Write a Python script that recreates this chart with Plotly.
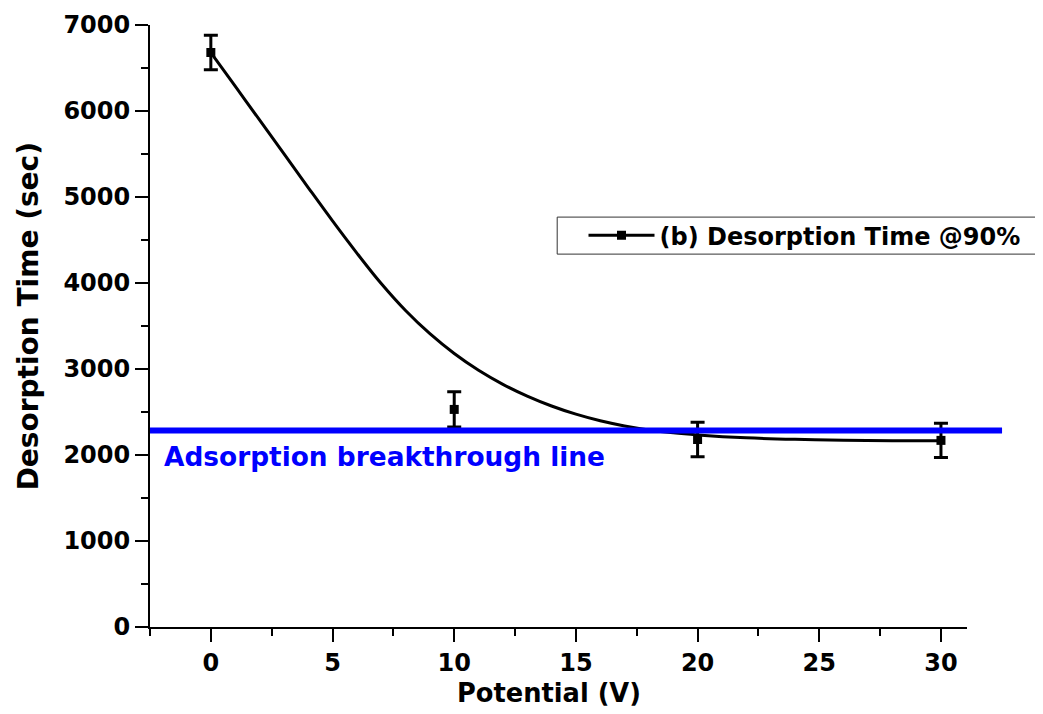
import plotly.graph_objects as go

# measured points (Potential V, desorption time s, error s)
potential = [0, 10, 20, 30]
desorption = [6680, 2530, 2180, 2170]
desorption_err = [200, 205, 200, 200]

# smooth curve
curve_x = [0, 1, 2, 3, 4, 5, 6, 7, 8, 9, 10, 11, 12, 13, 14, 15, 16, 17, 18, 19, 20, 22, 24, 26, 28, 30]
curve_y = [6680, 6288, 5896, 5503, 5110, 4722, 4348, 3994, 3680, 3410, 3180, 2985, 2822, 2685,
           2570, 2475, 2398, 2338, 2292, 2258, 2234, 2200, 2182, 2172, 2167, 2165]

breakthrough = 2285
breakthrough_label = "Adsorption breakthrough line"
legend_label = "(b) Desorption Time @90%"
x_title = "Potential (V)"
y_title = "Desorption Time (sec)"

FONT = "DejaVu Sans"

fig = go.Figure()

fig.add_trace(go.Scatter(
    x=curve_x, y=curve_y, mode="lines", line=dict(color="black", width=3, shape="spline"),
    showlegend=False, hoverinfo="skip"))

fig.add_trace(go.Scatter(
    x=potential, y=desorption, mode="markers",
    marker=dict(symbol="square", size=9, color="black"),
    error_y=dict(type="data", array=desorption_err, color="black", thickness=3, width=7),
    showlegend=False))

# legend-only entry (line + square marker)
fig.add_trace(go.Scatter(
    x=[None], y=[None], mode="lines+markers", name=legend_label,
    line=dict(color="black", width=3), marker=dict(symbol="square", size=9, color="black")))

fig.add_shape(type="line", xref="paper", yref="y", x0=0, x1=1.0429,
              y0=breakthrough, y1=breakthrough, line=dict(color="#0000FF", width=6), layer="above")

# legend frame
fig.add_shape(type="rect", xref="paper", yref="paper", x0=0.4984, x1=1.2, y0=0.6194, y1=0.6809,
              line=dict(color="#333333", width=1), fillcolor="rgba(0,0,0,0)", layer="above")

fig.add_annotation(x=-2.0, y=1985, xref="x", yref="y", text=breakthrough_label, showarrow=False,
                   xanchor="left", yanchor="middle",
                   font=dict(family=FONT, size=26.4, color="#0000FF", weight="bold"))

# axis titles
fig.add_annotation(x=0.4886, y=0, xref="paper", yref="paper", yshift=-66, text=x_title,
                   showarrow=False, xanchor="center", yanchor="middle",
                   font=dict(family=FONT, size=25.7, color="black", weight="bold"))
fig.add_annotation(x=0, y=0.516, xref="paper", yref="paper", xshift=-122, text=y_title,
                   textangle=-90, showarrow=False, xanchor="center", yanchor="middle",
                   font=dict(family=FONT, size=28, color="black", weight="bold"))

axis_common = dict(showline=True, linecolor="black", linewidth=2, ticks="outside", ticklen=13,
                   tickwidth=2, tickcolor="black", showgrid=False, zeroline=False, mirror=False,
                   tickfont=dict(family=FONT, size=24, color="black", weight="bold"))

fig.update_xaxes(range=[-2.5, 31.07], tick0=0, dtick=5,
                 minor=dict(ticks="outside", ticklen=7, tickwidth=2, tickcolor="black", dtick=2.5, tick0=0),
                 **axis_common)
fig.update_yaxes(range=[0, 7000], tick0=0, dtick=1000,
                 minor=dict(ticks="outside", ticklen=7, tickwidth=2, tickcolor="black", dtick=500, tick0=0),
                 ticklabelstandoff=0,
                 **axis_common)

fig.update_layout(
    width=1043, height=714,
    margin=dict(l=142, r=84, t=17, b=95, autoexpand=False),
    plot_bgcolor="white", paper_bgcolor="white",
    legend=dict(x=0.5306, y=0.650, xanchor="left", yanchor="middle", borderwidth=0,
                bgcolor="rgba(0,0,0,0)", font=dict(family=FONT, size=24, color="black", weight="bold"),
                itemwidth=66),
)

fig.write_html("out.html")
